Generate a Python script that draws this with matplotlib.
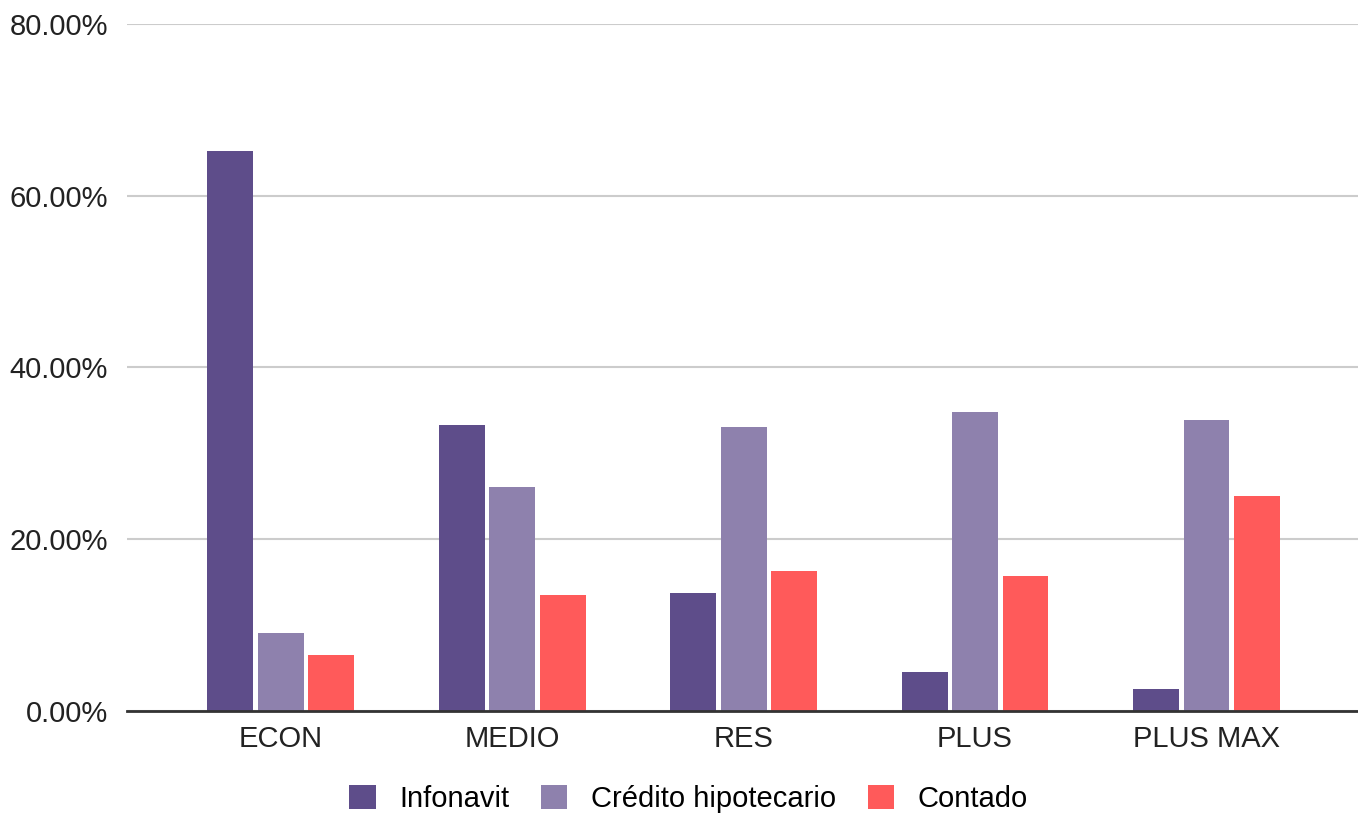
import matplotlib.pyplot as plt
import numpy as np
from matplotlib.ticker import FuncFormatter

plt.rcParams['font.family'] = ['Liberation Sans', 'DejaVu Sans']

# Forma de pago por segmento de vivienda
segmentos = ["ECON", "MEDIO", "RES", "PLUS", "PLUS MAX"]
infonavit = [65.2, 33.3, 13.7, 4.5, 2.6]
credito = [9.1, 26.1, 33.1, 34.8, 33.9]
contado = [6.5, 13.5, 16.3, 15.7, 25.0]

series = [("Infonavit", infonavit, "#5e4d8a"),
          ("Crédito hipotecario", credito, "#8e81ad"),
          ("Contado", contado, "#ff5a5a")]

fig = plt.figure(figsize=(13.58, 8.13), dpi=100)
ax = fig.add_axes([0.0935, 0.1255, 0.9065, 0.845])

x = np.arange(len(segmentos))
w = 0.198
step = 0.218
for i, (nombre, vals, color) in enumerate(series):
    ax.bar(x + (i - 1) * step, vals, width=w, color=color, label=nombre, zorder=3)

ax.set_ylim(0, 80)
ax.set_xlim(-0.665, 4.655)
ax.set_yticks([0, 20, 40, 60, 80])
ax.yaxis.set_major_formatter(FuncFormatter(lambda v, p: f"{v:.2f}%"))
ax.set_xticks(x)
ax.set_xticklabels(segmentos)
ax.tick_params(axis='both', length=0, labelsize=21, colors='#222222')
ax.tick_params(axis='y', pad=13.5)
ax.tick_params(axis='x', pad=10)

ax.grid(axis='y', color='#cccccc', linewidth=1.5, zorder=0)
for s in ['top', 'right', 'left']:
    ax.spines[s].set_visible(False)
ax.spines['bottom'].set_color('#333333')
ax.spines['bottom'].set_linewidth(2)
ax.spines['bottom'].set_zorder(4)

fig.legend(loc='center', bbox_to_anchor=(0.507, 0.017), ncol=3, frameon=False,
           fontsize=21, handlelength=0.9, handleheight=0.9, handletextpad=0.8,
           columnspacing=1.1)

plt.savefig('out.png', dpi=100)
